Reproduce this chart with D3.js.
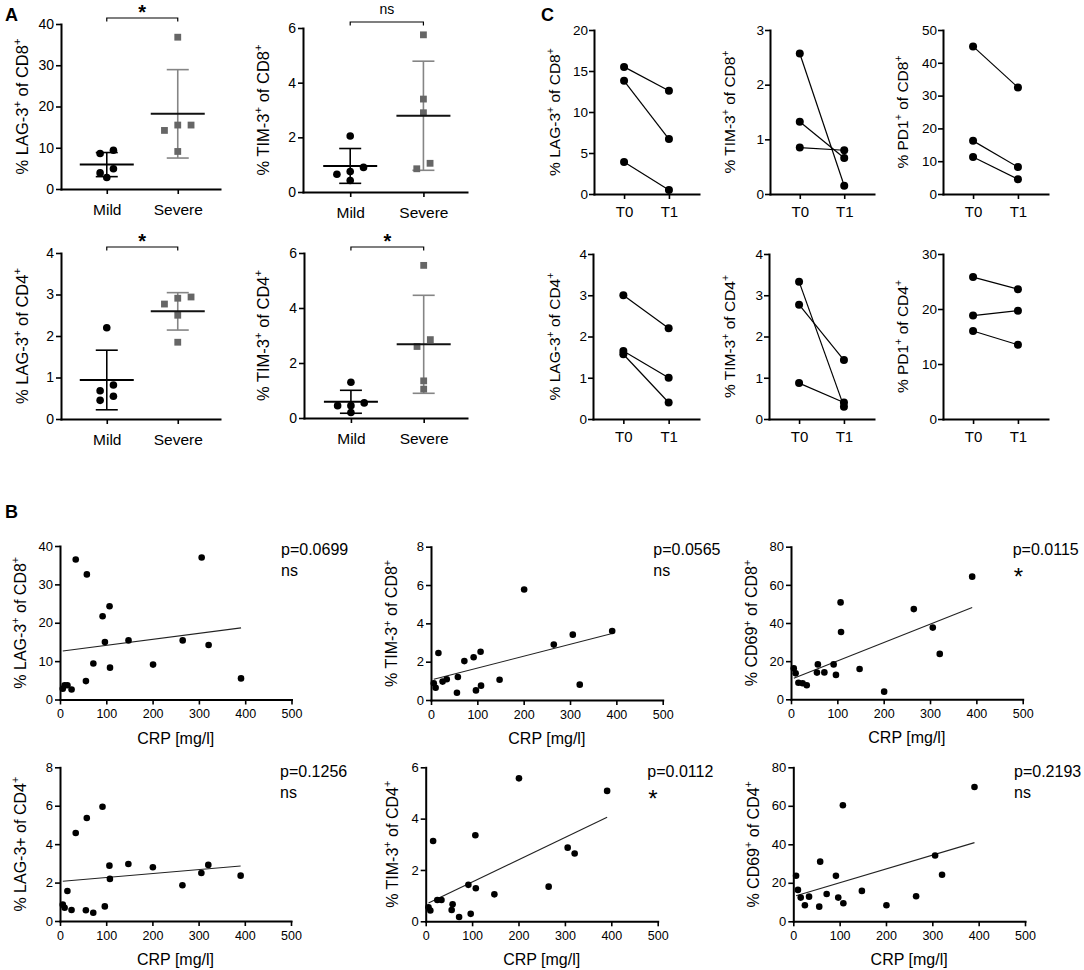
<!DOCTYPE html>
<html><head><meta charset="utf-8">
<script src="https://cdn.jsdelivr.net/npm/d3@7"></script>
<style>
body{margin:0;background:#fff;}
svg{font-family:Arial,"Liberation Sans",Helvetica,sans-serif;}
</style></head><body>
<svg id="fig" width="1084" height="970"></svg>
<script>
// ---------- Panel A data ----------
const groupLabels = ["Mild", "Severe"];
const aLag8Mild = [9.4, 8.6, 4.9, 3.9, 2.8];
const aLag8Severe = [36.8, 15.5, 15.5, 14.2, 9.1];
const aTim8Mild = [2.05, 0.9, 0.75, 0.65, 0.42];
const aTim8Severe = [5.75, 3.4, 2.9, 1.05, 0.85];
const aLag4Mild = [2.2, 0.82, 0.68, 0.55, 0.45];
const aLag4Severe = [2.94, 2.91, 2.77, 2.5, 1.85];
const aTim4Mild = [1.3, 0.55, 0.45, 0.45, 0.2];
const aTim4Severe = [5.55, 2.85, 2.6, 1.35, 1.05];
const aSig = ["*", "ns", "*", "*"];

// ---------- Panel C data ----------
const timeLabels = ["T0", "T1"];
const cLag8T0 = [15.5, 13.8, 3.9],  cLag8T1 = [12.6, 6.7, 0.5];
const cTim8T0 = [2.57, 1.32, 0.85], cTim8T1 = [0.15, 0.66, 0.8];
const cPd8T0  = [45, 16.2, 11.3],   cPd8T1  = [32.5, 8.2, 4.5];
const cLag4T0 = [3.0, 1.65, 1.57],  cLag4T1 = [2.2, 1.0, 0.4];
const cTim4T0 = [3.33, 2.77, 0.87], cTim4T1 = [0.3, 1.43, 0.4];
const cPd4T0  = [25.8, 18.8, 16.0], cPd4T1  = [23.6, 19.7, 13.5];

// ---------- Panel B data ----------
const crp   = [6, 10, 16, 25, 34, 56, 58, 72, 92, 97, 107, 108, 148, 201, 265, 306, 321, 391];
const bLag8 = [2.8, 3.7, 3.7, 2.6, 36.5, 4.8, 32.6, 9.4, 21.7, 15, 24.3, 8.3, 15.4, 9.1, 15.4, 37, 14.2, 5.5];
const bTim8 = [0.87, 0.64, 2.45, 0.96, 1.08, 0.38, 1.2, 2.03, 2.23, 0.5, 2.52, 0.75, 1.06, 5.77, 2.89, 3.41, 0.8, 3.6];
const bCd698 = [16.2, 13.6, 8.7, 8.4, 7.4, 14, 18.3, 14.1, 18.3, 12.8, 50.8, 35.3, 15.9, 4.0, 47.3, 37.6, 23.8, 64.3];
const bLag4 = [0.85, 0.69, 1.56, 0.57, 4.58, 0.56, 5.36, 0.43, 5.95, 0.76, 2.88, 2.19, 2.97, 2.8, 1.86, 2.5, 2.92, 2.36];
const bTim4 = [0.55, 0.42, 3.13, 0.83, 0.83, 0.44, 0.66, 0.17, 1.42, 0.29, 3.35, 1.29, 1.05, 5.57, 1.35, 2.87, 2.64, 5.08];
const bCd694 = [23.7, 16.3, 12.3, 8.3, 12.8, 7.6, 31, 14.2, 23.6, 12.3, 60.3, 9.4, 15.8, 8.3, 13, 34.2, 24.2, 69.8];
const bPvals = ["p=0.0699", "p=0.0565", "p=0.0115", "p=0.1256", "p=0.0112", "p=0.2193"];
const bSig = ["ns", "ns", "*", "ns", "*", "ns"];
const crpTicks = [0, 100, 200, 300, 400, 500];

// ---------- helpers ----------
const svg = d3.select("#fig");
const FONT = "Arial, 'Liberation Sans', Helvetica, sans-serif";
const fmt = d3.format("~g");

function styleAxis(g, fs) {
  g.attr("font-family", FONT);
  g.select(".domain").attr("stroke", "#000").attr("stroke-width", 2).attr("stroke-linecap", "square");
  g.selectAll(".tick line").attr("stroke", "#000").attr("stroke-width", 1.6);
  g.selectAll(".tick text").attr("fill", "#000").attr("font-size", fs);
}
function addRich(t, parts, fs) {
  let cur = 0;
  parts.forEach(p => {
    const sup = p.startsWith("^");
    const txt = sup ? p.slice(1) : p;
    const target = sup ? -0.42 * fs : 0;
    const ts = t.append("tspan").text(txt).attr("dy", target - cur);
    if (sup) ts.attr("font-size", fs * 0.68);
    cur = target;
  });
}
function yLabel(cx, cy, parts, fs) {
  const t = svg.append("text").attr("transform", "rotate(-90)")
    .attr("x", -cy).attr("y", cx + 0.35 * fs)
    .attr("text-anchor", "middle").attr("font-size", fs).attr("fill", "#000");
  addRich(t, parts, fs);
}
function drawYAxis(y, x0, ticks, fs, pad) {
  const g = svg.append("g").attr("transform", `translate(${x0},0)`)
    .call(d3.axisLeft(y).tickValues(ticks).tickFormat(fmt).tickSize(5).tickPadding(pad).tickSizeOuter(0));
  styleAxis(g, fs);
}
function arrange(vals, y, spacing, thresh) {
  const items = vals.map(v => ({ v, py: y(v) })).sort((a, b) => b.v - a.v);
  const rows = [];
  items.forEach(it => {
    const r = rows[rows.length - 1];
    if (r && Math.abs(it.py - r[0].py) < thresh) r.push(it); else rows.push([it]);
  });
  rows.forEach(r => {
    r.sort((a, b) => a.v - b.v);
    r.forEach((it, i) => it.dx = (i - (r.length - 1) / 2) * spacing);
  });
  return items;
}

// ---------- Panel A ----------
function groupPanel(c) {
  const x = d3.scalePoint().domain(groupLabels).range([c.x0, c.x1]).padding(0.62).align(0.52);
  const y = d3.scaleLinear().domain([0, c.yMax]).range([c.yBot, c.yTop]);
  drawYAxis(y, c.x0, c.ticks, 14, 2);
  const gx = svg.append("g").attr("transform", `translate(0,${c.yBot})`)
    .call(d3.axisBottom(x).tickSize(5).tickPadding(10).tickSizeOuter(0));
  styleAxis(gx, 15.5);
  yLabel(c.labelX, (c.yTop + c.yBot) / 2, c.label, 16.5);

  const groups = [
    { key: "Mild", vals: c.mild, bar: "#000", mean: "#000", pt: "#000", shape: "circle" },
    { key: "Severe", vals: c.severe, bar: "#858585", mean: "#111", pt: "#666", shape: "square" }
  ];
  groups.forEach(gr => {
    const cx = x(gr.key);
    const m = d3.mean(gr.vals), sd = d3.deviation(gr.vals);
    const g = svg.append("g");
    g.append("line").attr("x1", cx).attr("x2", cx).attr("y1", y(m - sd)).attr("y2", y(m + sd))
      .attr("stroke", gr.bar).attr("stroke-width", 1.6);
    [m - sd, m + sd].forEach(v => g.append("line").attr("x1", cx - 11).attr("x2", cx + 11)
      .attr("y1", y(v)).attr("y2", y(v)).attr("stroke", gr.bar).attr("stroke-width", 1.6));
    const items = arrange(gr.vals, y, 13.3, 7.5);
    items.forEach(it => {
      if (gr.shape === "circle")
        g.append("circle").attr("cx", cx + it.dx).attr("cy", it.py).attr("r", 3.8).attr("fill", gr.pt);
      else
        g.append("rect").attr("x", cx + it.dx - 3.4).attr("y", it.py - 3.4).attr("width", 6.8).attr("height", 6.8).attr("fill", gr.pt);
    });
    g.append("line").attr("x1", cx - 27).attr("x2", cx + 27).attr("y1", y(m)).attr("y2", y(m))
      .attr("stroke", gr.mean).attr("stroke-width", 2);
  });
  // significance bracket
  const by = c.yTop - 6;
  const xm = x("Mild"), xs = x("Severe");
  svg.append("path").attr("d", `M${xm},${by + 3.5}V${by}H${xs}V${by + 3.5}`)
    .attr("fill", "none").attr("stroke", "#000").attr("stroke-width", 1.2);
  if (c.sig === "*")
    svg.append("text").attr("x", (xm + xs) / 2).attr("y", by + 1).attr("text-anchor", "middle")
      .attr("font-size", 20).attr("font-weight", "bold").text("*");
  else
    svg.append("text").attr("x", (xm + xs) / 2).attr("y", by - 8).attr("text-anchor", "middle")
      .attr("font-size", 14).text(c.sig);
}

groupPanel({ x0: 61, x1: 220, yTop: 24, yBot: 189, yMax: 40, ticks: [0, 10, 20, 30, 40],
  mild: aLag8Mild, severe: aLag8Severe, labelX: 22, label: ["% LAG-3", "^+", " of CD8", "^+"], sig: aSig[0] });
groupPanel({ x0: 303, x1: 467, yTop: 28, yBot: 192, yMax: 6, ticks: [0, 2, 4, 6],
  mild: aTim8Mild, severe: aTim8Severe, labelX: 263, label: ["% TIM-3", "^+", " of CD8", "^+"], sig: aSig[1] });
groupPanel({ x0: 61, x1: 220, yTop: 253, yBot: 419, yMax: 4, ticks: [0, 1, 2, 3, 4],
  mild: aLag4Mild, severe: aLag4Severe, labelX: 22, label: ["% LAG-3", "^+", " of CD4", "^+"], sig: aSig[2] });
groupPanel({ x0: 304, x1: 467, yTop: 253, yBot: 418, yMax: 6, ticks: [0, 2, 4, 6],
  mild: aTim4Mild, severe: aTim4Severe, labelX: 263, label: ["% TIM-3", "^+", " of CD4", "^+"], sig: aSig[3] });

// ---------- Panel C ----------
function pairPanel(c) {
  const x = d3.scalePoint().domain(timeLabels).range([c.x0, c.x1]).padding(0.67).align(0.5);
  const y = d3.scaleLinear().domain([0, c.yMax]).range([c.yBot, c.yTop]);
  drawYAxis(y, c.x0, d3.range(0, c.yMax + c.step / 2, c.step), 13.5, 1);
  const gx = svg.append("g").attr("transform", `translate(0,${c.yBot})`)
    .call(d3.axisBottom(x).tickSize(5).tickPadding(7).tickSizeOuter(0));
  styleAxis(gx, 15);
  yLabel(c.labelX, (c.yTop + c.yBot) / 2, c.label, 15.5);
  c.t0.forEach((v, i) => {
    svg.append("line").attr("x1", x("T0")).attr("x2", x("T1")).attr("y1", y(v)).attr("y2", y(c.t1[i]))
      .attr("stroke", "#000").attr("stroke-width", 1.2);
  });
  c.t0.forEach((v, i) => {
    svg.append("circle").attr("cx", x("T0")).attr("cy", y(v)).attr("r", 4).attr("fill", "#000");
    svg.append("circle").attr("cx", x("T1")).attr("cy", y(c.t1[i])).attr("r", 4).attr("fill", "#000");
  });
}
pairPanel({ x0: 594, x1: 699, yTop: 30, yBot: 194, yMax: 20, step: 5, t0: cLag8T0, t1: cLag8T1, labelX: 555, label: ["% LAG-3", "^+", " of CD8", "^+"] });
pairPanel({ x0: 770, x1: 874, yTop: 30, yBot: 194, yMax: 3, step: 1, t0: cTim8T0, t1: cTim8T1, labelX: 730, label: ["% TIM-3", "^+", " of CD8", "^+"] });
pairPanel({ x0: 943, x1: 1048, yTop: 30, yBot: 194, yMax: 50, step: 10, t0: cPd8T0, t1: cPd8T1, labelX: 903, label: ["% PD1", "^+", " of CD8", "^+"] });
pairPanel({ x0: 593, x1: 699, yTop: 254, yBot: 419, yMax: 4, step: 1, t0: cLag4T0, t1: cLag4T1, labelX: 555, label: ["% LAG-3", "^+", " of CD4", "^+"] });
pairPanel({ x0: 769, x1: 874, yTop: 254, yBot: 419, yMax: 4, step: 1, t0: cTim4T0, t1: cTim4T1, labelX: 730, label: ["% TIM-3", "^+", " of CD4", "^+"] });
pairPanel({ x0: 943, x1: 1048, yTop: 254, yBot: 419, yMax: 30, step: 10, t0: cPd4T0, t1: cPd4T1, labelX: 903, label: ["% PD1", "^+", " of CD4", "^+"] });

// ---------- Panel B ----------
function scatterPanel(c) {
  const x = d3.scaleLinear().domain([0, 500]).range([c.x0, c.x1]);
  const y = d3.scaleLinear().domain([0, c.yMax]).range([c.yBot, c.yTop]);
  drawYAxis(y, c.x0, d3.range(0, c.yMax + c.step / 2, c.step), 13, 2);
  const gx = svg.append("g").attr("transform", `translate(0,${c.yBot})`)
    .call(d3.axisBottom(x).tickValues(crpTicks).tickFormat(fmt).tickSize(5).tickPadding(5).tickSizeOuter(0));
  styleAxis(gx, 12.5);
  svg.append("text").attr("x", (c.x0 + c.x1) / 2).attr("y", c.yBot + 44).attr("text-anchor", "middle")
    .attr("font-size", 16).text("CRP [mg/l]");
  yLabel(c.labelX, (c.yTop + c.yBot) / 2, c.label, 16);
  // least-squares regression line
  const mx = d3.mean(crp), my = d3.mean(c.vals);
  let sxy = 0, sxx = 0;
  crp.forEach((v, i) => { sxy += (v - mx) * (c.vals[i] - my); sxx += (v - mx) * (v - mx); });
  const slope = sxy / sxx, icpt = my - slope * mx;
  const [xmin, xmax] = d3.extent(crp);
  svg.append("line").attr("x1", x(xmin)).attr("x2", x(xmax))
    .attr("y1", y(icpt + slope * xmin)).attr("y2", y(icpt + slope * xmax))
    .attr("stroke", "#222").attr("stroke-width", 1.1);
  crp.forEach((v, i) => svg.append("circle").attr("cx", x(v)).attr("cy", y(c.vals[i])).attr("r", 3.3).attr("fill", "#000"));
  svg.append("text").attr("x", c.pX).attr("y", c.pBase).attr("font-size", 16).text(c.p);
  if (c.sig === "*")
    svg.append("text").attr("x", c.pX + 1).attr("y", c.pBase + 30).attr("font-size", 24).text("*");
  else
    svg.append("text").attr("x", c.pX).attr("y", c.pBase + 21).attr("font-size", 16).text(c.sig);
}
scatterPanel({ x0: 60, x1: 291.5, yTop: 546, yBot: 699.5, yMax: 40, step: 10, vals: bLag8, labelX: 20,
  label: ["% LAG-3", "^+", " of CD8", "^+"], pX: 281, pBase: 555, p: bPvals[0], sig: bSig[0] });
scatterPanel({ x0: 431, x1: 662.7, yTop: 546.7, yBot: 700, yMax: 8, step: 2, vals: bTim8, labelX: 391.7,
  label: ["% TIM-3", "^+", " of CD8", "^+"], pX: 653.3, pBase: 555, p: bPvals[1], sig: bSig[1] });
scatterPanel({ x0: 791, x1: 1022.7, yTop: 546.7, yBot: 699.3, yMax: 80, step: 20, vals: bCd698, labelX: 751.7,
  label: ["% CD69", "^+", " of CD8", "^+"], pX: 1012.7, pBase: 555, p: bPvals[2], sig: bSig[2] });
scatterPanel({ x0: 60, x1: 291, yTop: 767.3, yBot: 921, yMax: 8, step: 2, vals: bLag4, labelX: 20,
  label: ["% LAG-3+ of CD4", "^+"], pX: 280, pBase: 777, p: bPvals[3], sig: bSig[3] });
scatterPanel({ x0: 425.7, x1: 657.7, yTop: 767.3, yBot: 921.3, yMax: 6, step: 2, vals: bTim4, labelX: 392,
  label: ["% TIM-3", "^+", " of CD4", "^+"], pX: 647.3, pBase: 777, p: bPvals[4], sig: bSig[4] });
scatterPanel({ x0: 793.3, x1: 1025, yTop: 767.3, yBot: 921.3, yMax: 80, step: 20, vals: bCd694, labelX: 753,
  label: ["% CD69", "^+", " of CD4", "^+"], pX: 1014, pBase: 777, p: bPvals[5], sig: bSig[5] });

// ---------- panel letters ----------
[["A", 5, 21], ["C", 541, 21], ["B", 5, 518]].forEach(([t, lx, ly]) =>
  svg.append("text").attr("x", lx).attr("y", ly).attr("font-size", 18).attr("font-weight", "bold").text(t));
</script>
</body></html>
